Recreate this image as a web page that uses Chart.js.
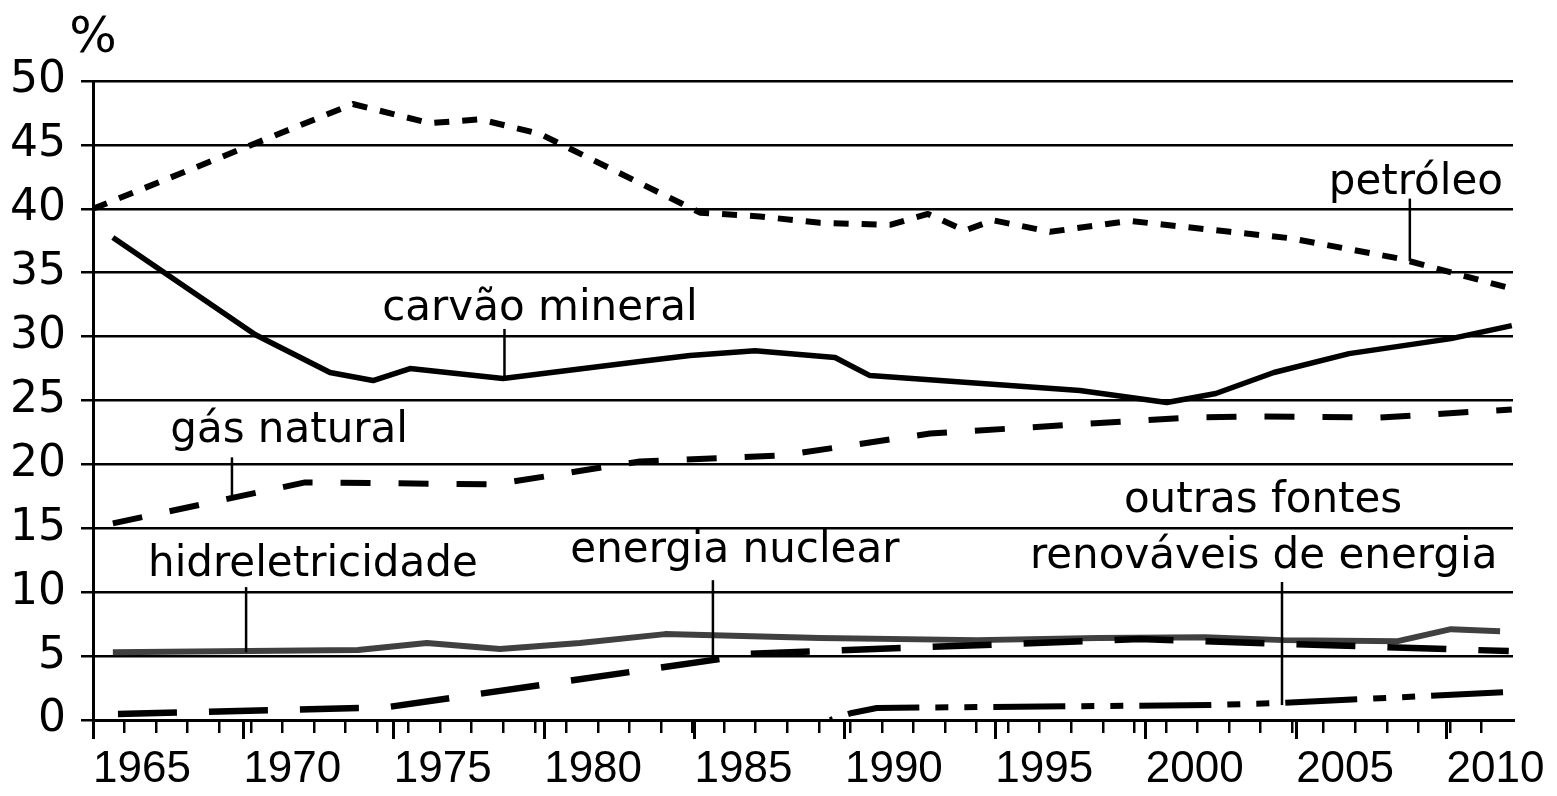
<!DOCTYPE html>
<html>
<head>
<meta charset="utf-8">
<script src="https://cdn.jsdelivr.net/npm/chart.js@4.4.1/dist/chart.umd.min.js"></script>
<style>
  html, body { margin: 0; padding: 0; background: #fff; }
</style>
</head>
<body>
<canvas id="myChart" width="1557" height="796"></canvas>
<script>
// x tick labels and y ticks
const xTickLabels = [1965, 1970, 1975, 1980, 1985, 1990, 1995, 2000, 2005, 2010];
const yTickValues = [0, 5, 10, 15, 20, 25, 30, 35, 40, 45, 50];

// petróleo
const petroleoYears = [1965.0, 1973.64, 1976.2, 1977.87, 1979.86, 1985.18, 1987.17, 1989.17, 1991.5, 1992.76, 1993.99, 1994.92, 1996.82, 1999.47, 2002.8, 2004.79, 2008.45, 2012.17];
const petroleoValues = [40.0, 48.2, 46.7, 47.0, 45.86, 39.7, 39.4, 38.9, 38.75, 39.6, 38.3, 39.1, 38.2, 39.05, 38.2, 37.7, 36.1, 33.75];

// carvão mineral
const carvaoYears = [1965.66, 1970.4, 1972.88, 1974.31, 1975.54, 1978.63, 1983.18, 1984.85, 1987.01, 1989.67, 1990.83, 1997.81, 2000.7, 2002.33, 2004.26, 2006.76, 2010.15, 2012.17];
const carvaoValues = [37.75, 30.15, 27.19, 26.56, 27.5, 26.72, 28.05, 28.52, 28.9, 28.36, 26.95, 25.78, 24.84, 25.55, 27.19, 28.67, 29.84, 30.86];

// gás natural
const gasYears = [1965.66, 1972.05, 1978.36, 1983.18, 1987.94, 1992.83, 2001.47, 2003.46, 2007.79, 2012.17];
const gasValues = [15.39, 18.59, 18.44, 20.23, 20.7, 22.42, 23.67, 23.75, 23.67, 24.3];

// hidreletricidade
const hidroYears = [1965.66, 1973.81, 1976.1, 1978.53, 1981.19, 1984.02, 1989.17, 1994.39, 1998.41, 2001.97, 2004.59, 2008.38, 2010.15, 2011.78];
const hidroValues = [5.31, 5.47, 6.02, 5.55, 6.02, 6.72, 6.41, 6.25, 6.41, 6.48, 6.25, 6.17, 7.11, 6.95];

// energia nuclear
const nuclearYears = [1965.83, 1973.84, 1974.71, 1985.84, 1986.51, 1999.81, 2012.07];
const nuclearValues = [0.47, 0.94, 0.98, 4.77, 5.16, 6.33, 5.39];

// outras fontes renováveis de energia
const outrasYears = [1989.5, 1990.23, 1991.06, 2002.13, 2004.46, 2012.1];
const outrasValues = [0, 0.55, 0.94, 1.17, 1.33, 2.19];

const toPoints = (xs, ys) => xs.map((x, i) => ({ x: x, y: ys[i] }));

const FONT = "'DejaVu Sans', sans-serif";

// labels with leader lines (data coordinates)
const notes = [
    { text: 'petróleo', x: 2008.98, y: 41.17 },
    { text: 'carvão mineral', x: 1979.86, y: 31.33 },
    { text: 'gás natural', x: 1971.52, y: 21.72 },
    { text: 'hidreletricidade', x: 1972.31, y: 11.25 },
    { text: 'energia nuclear', x: 1986.34, y: 12.34 },
    { text: 'outras fontes', x: 2003.9, y: 16.25 },
    { text: 'renováveis de energia', x: 2003.92, y: 11.9 }
];
const leaders = [
    { x: 2008.78, from: 40.8, to: 35.9 },
    { x: 1978.68, from: 30.6, to: 26.7 },
    { x: 1969.62, from: 20.55, to: 17.4 },
    { x: 1970.09, from: 10.4, to: 5.3 },
    { x: 1985.61, from: 10.94, to: 4.69 },
    { x: 2004.53, from: 10.8, to: 1.17 }
];

const notesPlugin = {
    id: 'notes',
    afterDatasetsDraw(chart) {
        const ctx = chart.ctx;
        const xs = chart.scales.x, ys = chart.scales.y;
        ctx.save();
        ctx.strokeStyle = '#000';
        ctx.lineWidth = 2.5;
        leaders.forEach(l => {
            const px = xs.getPixelForValue(l.x);
            ctx.beginPath();
            ctx.moveTo(px, ys.getPixelForValue(l.from));
            ctx.lineTo(px, ys.getPixelForValue(l.to));
            ctx.stroke();
        });
        ctx.fillStyle = '#000';
        ctx.font = '42px ' + FONT;
        ctx.textAlign = 'center';
        ctx.textBaseline = 'alphabetic';
        notes.forEach(n => {
            ctx.fillText(n.text, xs.getPixelForValue(n.x), ys.getPixelForValue(n.y));
        });
        // unit
        ctx.font = '50px ' + FONT;
        ctx.fillText('%', xs.getPixelForValue(1965), ys.getPixelForValue(50) - 29);
        ctx.restore();
    }
};

const ctx = document.getElementById('myChart').getContext('2d');
const myChart = new Chart(ctx, {
    type: 'line',
    data: {
        datasets: [
            {
                label: 'outras fontes renováveis de energia',
                data: toPoints(outrasYears, outrasValues),
                xAxisID: 'x',
                borderColor: '#000',
                borderWidth: 6,
                borderDash: [72, 16, 13, 16, 13, 16],
                borderDashOffset: 127,
                order: 1
            },
            {
                label: 'energia nuclear',
                data: toPoints(nuclearYears, nuclearValues),
                xAxisID: 'x',
                borderColor: '#000',
                borderWidth: 6.5,
                borderDash: [59, 32],
                order: 2
            },
            {
                label: 'hidreletricidade',
                data: toPoints(hidroYears, hidroValues),
                xAxisID: 'x',
                borderColor: '#404040',
                borderWidth: 6,
                order: 3
            },
            {
                label: 'gás natural',
                data: toPoints(gasYears, gasValues),
                xAxisID: 'x',
                borderColor: '#000',
                borderWidth: 6,
                borderDash: [30, 28],
                order: 4
            },
            {
                label: 'carvão mineral',
                data: toPoints(carvaoYears, carvaoValues),
                xAxisID: 'x',
                borderColor: '#000',
                borderWidth: 5.5,
                order: 5
            },
            {
                label: 'petróleo',
                data: toPoints(petroleoYears, petroleoValues),
                xAxisID: 'x',
                borderColor: '#000',
                borderWidth: 6,
                borderDash: [15, 13],
                order: 6
            }
        ]
    },
    options: {
        responsive: false,
        animation: false,
        layout: { padding: { top: 81, right: 44, left: 0, bottom: 0 } },
        elements: {
            point: { radius: 0, hoverRadius: 0 },
            line: { tension: 0, fill: false, borderCapStyle: 'butt', borderJoinStyle: 'round' }
        },
        plugins: {
            legend: { display: false },
            tooltip: { enabled: false }
        },
        scales: {
            x: {
                type: 'linear',
                position: 'bottom',
                min: 1965,
                max: 2012.21,
                afterBuildTicks: scale => {
                    scale.ticks = xTickLabels.map(v => ({ value: v }));
                },
                afterFit: scale => { scale.height = 76; scale.paddingLeft = 0; scale.paddingRight = 0; },
                ticks: {
                    align: 'start',
                    padding: 4,
                    color: '#000',
                    font: { family: "'Liberation Sans', Arial, sans-serif", size: 44 },
                    callback: v => String(v)
                },
                grid: { drawOnChartArea: false, drawTicks: true, tickLength: 19, color: '#000', lineWidth: 3 },
                border: { display: true, color: '#000', width: 3 }
            },
            xMinor: {
                type: 'linear',
                position: 'bottom',
                weight: -1,
                min: 0,
                max: 45,
                afterBuildTicks: scale => {
                    const t = [];
                    for (let i = 1; i < 45; i++) t.push({ value: i });
                    scale.ticks = t;
                },
                afterFit: scale => { scale.height = 0; scale.paddingLeft = 0; scale.paddingRight = 0; },
                ticks: { display: false },
                grid: { drawOnChartArea: false, drawTicks: true, tickLength: 13, color: '#000', lineWidth: 2.5 },
                border: { display: false }
            },
            y: {
                type: 'linear',
                min: 0,
                max: 50,
                afterBuildTicks: scale => {
                    scale.ticks = yTickValues.map(v => ({ value: v }));
                },
                afterFit: scale => { scale.width = 93; scale.paddingTop = 0; scale.paddingBottom = 0; },
                ticks: {
                    padding: 15,
                    color: '#000',
                    font: { family: FONT, size: 44 }
                },
                grid: { color: '#000', lineWidth: 2.5, tickLength: 12, drawTicks: true },
                border: { display: true, color: '#000', width: 3 }
            }
        }
    },
    plugins: [notesPlugin]
});
</script>
</body>
</html>
